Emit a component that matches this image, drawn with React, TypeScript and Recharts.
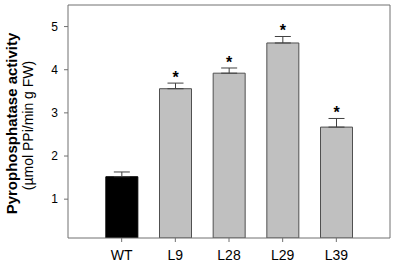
import React from "react";
import { BarChart, Bar, XAxis, YAxis, ErrorBar, Cell, LabelList, ReferenceLine } from "recharts";

const categories = ["WT", "L9", "L28", "L29", "L39"];
const positions = [1, 2, 3, 4, 5];
const activity = [1.52, 3.56, 3.92, 4.62, 2.67];
const errors = [0.11, 0.13, 0.12, 0.15, 0.2];
const significant = [false, true, true, true, true];
const yTicks = [1, 2, 3, 4, 5];
const colors = ["#000000", "#c0c0c0", "#c0c0c0", "#c0c0c0", "#c0c0c0"];

const data = categories.map((c, i) => ({
  name: c,
  pos: positions[i],
  value: activity[i],
  err: [0, errors[i]],
  star: significant[i] ? "*" : "",
  errUp: errors[i],
}));

const Y_MIN = 0.1;
const FONT = "'Liberation Sans', Arial, sans-serif";

const StarLabel = (props: any) => {
  const { x, y, width, height, index } = props;
  const d = data[index];
  if (!d.star) return null;
  const k = height / (d.value - Y_MIN);
  const capY = y - d.errUp * k;
  return (
    <text x={x + width / 2} y={capY} textAnchor="middle" fontFamily={FONT} fontWeight="bold" fontSize={16} fill="#000">
      *
    </text>
  );
};

const YLabel = (props: any) => {
  const vb = props.viewBox || {};
  const cy = vb.y + vb.height / 2 + 2;
  return (
    <g>
      <text x={0} y={0} transform={`translate(17, ${cy}) rotate(-90)`} textAnchor="middle" fontFamily={FONT} fontWeight="bold" fontSize={15} fill="#000">
        Pyrophosphatase activity
      </text>
      <text x={0} y={0} transform={`translate(33, ${cy + 2}) rotate(-90)`} textAnchor="middle" fontFamily={FONT} fontSize={14} fill="#000">
        (µmol PPi/min g FW)
      </text>
    </g>
  );
};

export default function App() {
  return (
    <div style={{ position: "absolute", left: 0, top: 0, background: "#fff" }}>
      <BarChart width={397} height={267} data={data} margin={{ top: 5, right: 7, bottom: 0, left: 0 }}>
        <XAxis
          dataKey="pos"
          type="number"
          domain={[0, 6]}
          ticks={positions}
          tickFormatter={(v: number) => categories[v - 1]}
          height={29}
          tickSize={4}
          stroke="#707070"
          tick={{ fill: "#000", fontSize: 14, fontFamily: FONT }}
          tickMargin={8}
        />
        <YAxis
          type="number"
          domain={[Y_MIN, 5.5]}
          ticks={yTicks}
          width={68}
          tickSize={4}
          tickMargin={6}
          stroke="#707070"
          tick={{ fill: "#000", fontSize: 12, fontFamily: FONT }}
          label={<YLabel />}
          allowDataOverflow
        />
        <ReferenceLine y={5.5} stroke="#707070" ifOverflow="extendDomain" />
        <ReferenceLine x={6} stroke="#707070" />
        <Bar dataKey="value" barSize={32} isAnimationActive={false} stroke="#505050" strokeWidth={1}>
          {data.map((d, i) => (
            <Cell key={d.name} fill={colors[i]} stroke={i === 0 ? "#000" : "#505050"} />
          ))}
          <ErrorBar dataKey="err" width={8} stroke="#404040" strokeWidth={1} isAnimationActive={false} />
          <LabelList dataKey="star" content={<StarLabel />} />
        </Bar>
      </BarChart>
    </div>
  );
}
